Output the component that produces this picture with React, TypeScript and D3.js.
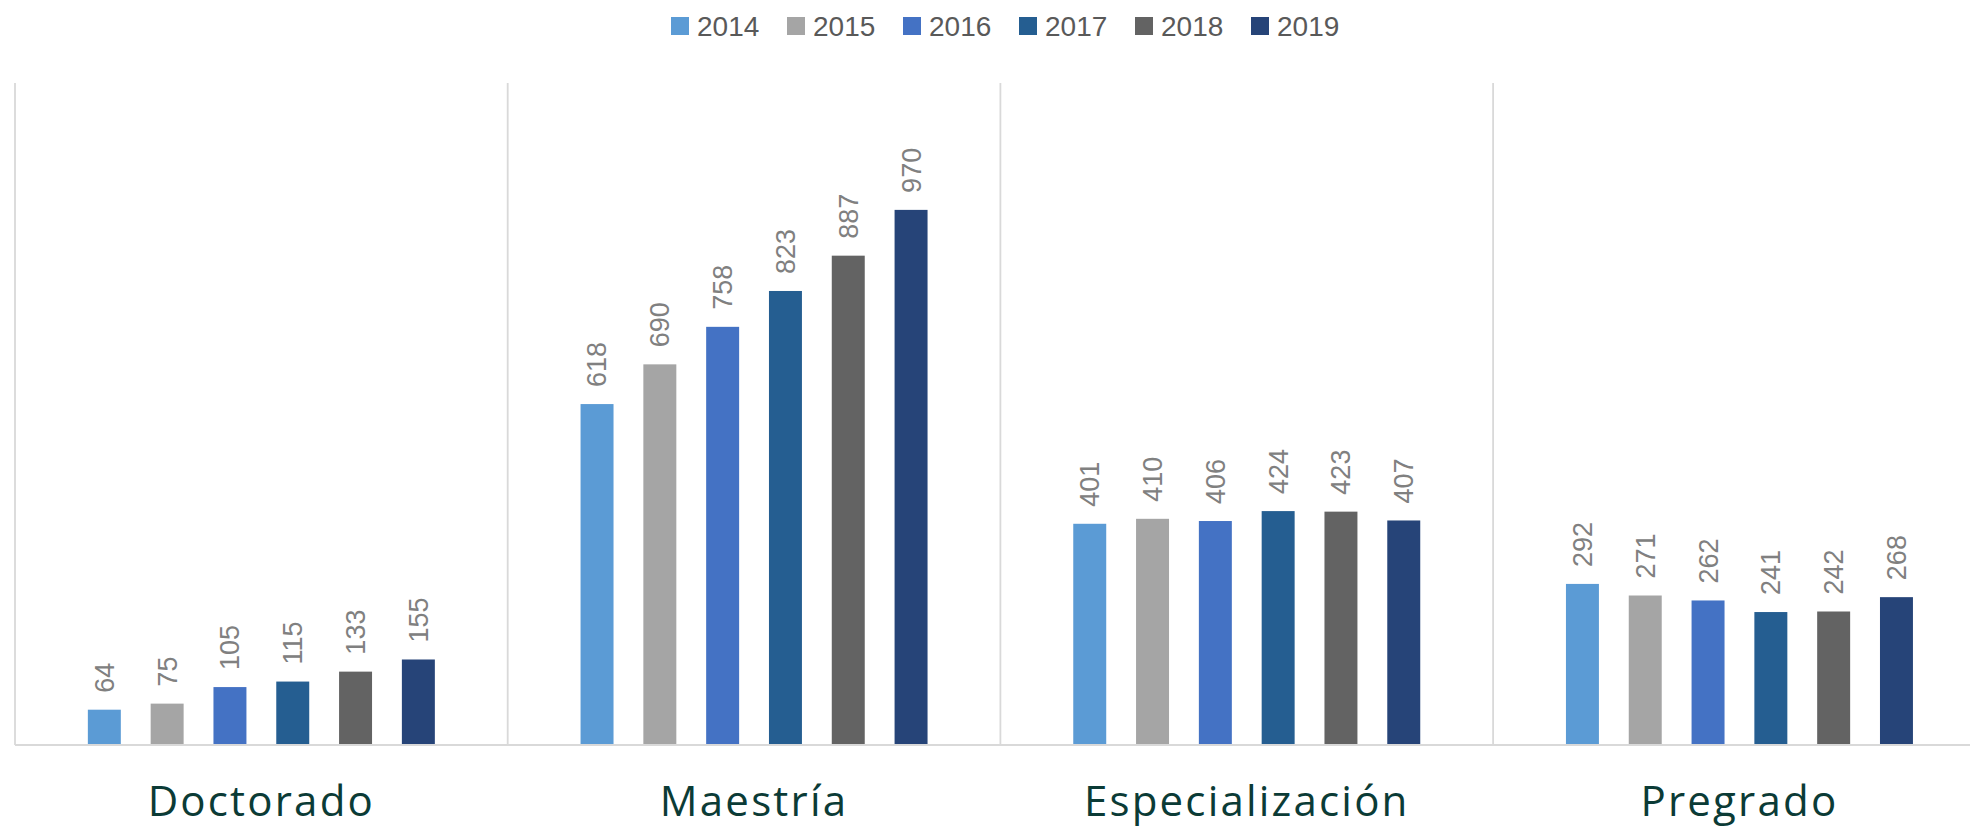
import React, { useEffect } from "react";
import * as d3 from "d3";

const categories = ["Doctorado", "Maestría", "Especialización", "Pregrado"];
const years = ["2014", "2015", "2016", "2017", "2018", "2019"];
const values2014 = [64, 618, 401, 292];
const values2015 = [75, 690, 410, 271];
const values2016 = [105, 758, 406, 262];
const values2017 = [115, 823, 424, 241];
const values2018 = [133, 887, 423, 242];
const values2019 = [155, 970, 407, 268];
const colors = ["#5b9bd5", "#a5a5a5", "#4472c4", "#255e91", "#636363", "#264478"];

const series = [values2014, values2015, values2016, values2017, values2018, values2019];

const App = () => {
  const width = 1970,
    height = 828;
  const left = 15,
    top = 83,
    baseline = 745,
    bandW = 492.7;

  useEffect(() => {
    document.body.style.margin = "0";
  }, []);

  const x0 = d3
    .scaleBand()
    .domain(categories)
    .range([left, left + bandW * categories.length]);
  const x1 = d3
    .scaleBand()
    .domain(years)
    .range([0, x0.bandwidth()])
    .paddingInner(0.475)
    .paddingOuter(1.16);
  const y = d3.scaleLinear().domain([0, 1200]).range([baseline, top]);

  const legendStep = 116,
    legendX = 671;

  return (
    <svg width={width} height={height} style={{ display: "block", background: "#fff" }}>
      {/* legend */}
      <g>
        {years.map((yr, i) => (
          <g key={yr} transform={`translate(${legendX + i * legendStep}, 0)`}>
            <rect x={0} y={17} width={18} height={18} fill={colors[i]} />
            <text
              x={26}
              y={36}
              fontFamily="Liberation Sans, Arial, sans-serif"
              fontSize={28}
              fill="#595959"
            >
              {yr}
            </text>
          </g>
        ))}
      </g>

      {/* category dividers */}
      {d3.range(categories.length).map((i) => (
        <line
          key={i}
          x1={left + i * bandW}
          x2={left + i * bandW}
          y1={top}
          y2={baseline}
          stroke="#d9d9d9"
          strokeWidth={1.8}
        />
      ))}

      {/* bars */}
      {categories.map((cat, ci) => (
        <g key={cat} transform={`translate(${x0(cat)}, 0)`}>
          {years.map((yr, si) => {
            const v = series[si][ci];
            const bx = x1(yr) as number;
            const cx = bx + x1.bandwidth() / 2;
            return (
              <g key={yr}>
                <rect
                  x={bx}
                  y={y(v)}
                  width={x1.bandwidth()}
                  height={baseline - y(v)}
                  fill={colors[si]}
                />
                <text
                  transform={`translate(${cx}, ${y(v) - 17}) rotate(-90)`}
                  dy="0.35em"
                  fontFamily="Liberation Sans, Arial, sans-serif"
                  fontSize={27}
                  fill="#808080"
                >
                  {v}
                </text>
              </g>
            );
          })}
        </g>
      ))}

      {/* baseline */}
      <line x1={left} x2={width} y1={baseline} y2={baseline} stroke="#d9d9d9" strokeWidth={2} />

      {/* category labels */}
      {categories.map((cat) => (
        <text
          key={cat}
          x={(x0(cat) as number) + x0.bandwidth() / 2}
          y={816}
          textAnchor="middle"
          fontFamily="Open Sans, sans-serif"
          fontSize={42}
          letterSpacing={2.2}
          fill="#0b3b36"
        >
          {cat}
        </text>
      ))}
    </svg>
  );
};

export default App;
